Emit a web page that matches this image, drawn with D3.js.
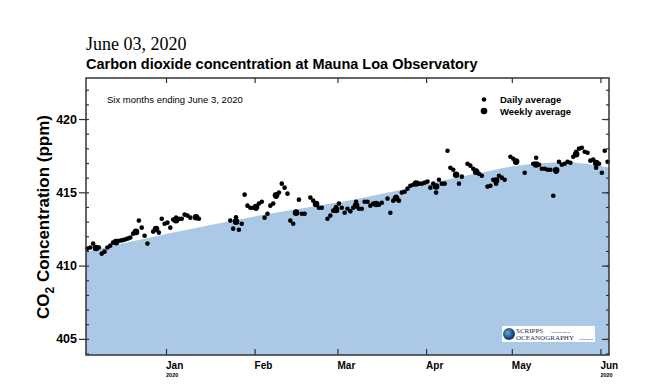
<!DOCTYPE html>
<html>
<head>
<meta charset="utf-8">
<script src="https://cdn.jsdelivr.net/npm/d3@7"></script>
<style>
  body { margin: 0; background: #fff; }
  text { font-family: "Liberation Sans", Arial, sans-serif; }
</style>
</head>
<body>
<div id="chart"></div>
<script>
// daily means, one value per day starting on dailyStart (null = no data)
var dailyStart = "2019-12-04"
var dailyPpm = [
  411.16, 411.23, 411.50, 411.16, 411.23, 410.82, 410.95, 411.23, 411.36, 411.57,
  411.64, 411.70, 411.72, 411.77, 411.84, 411.91, 412.18, 412.25, 413.07, 412.59,
  412.04, 411.50, null, 412.32, 412.52, 412.25, 413.20, 412.86, 412.93, 412.59,
  413.14, 413.27, 413.20, 413.20, 413.48, 413.41, 413.27, null, 413.27, 413.20,
  null, null, null, null, null, null, null, null, null, null,
  413.07, 412.52, 413.30, 412.45, 412.86, 414.84, 414.09, 413.95, 413.95, 413.88,
  414.23, 414.36, 413.27, 413.54, 414.09, 414.23, 414.70, 414.98, 415.59, 415.32,
  414.91, 413.07, 412.86, 413.68, 414.50, 413.54, 413.54, null, 414.64, 414.43,
  414.23, 413.95, 413.95, null, 413.20, 413.41, 413.75, 414.00, 414.23, 413.95,
  413.61, 413.88, 413.70, 413.95, 414.36, 413.88, 413.88, 414.36, 414.36, 414.09,
  414.23, 414.23, 414.16, 414.29, null, 414.57, 413.61, 414.43, 414.70, 414.43,
  414.98, 415.04, 415.25, 415.45, 415.52, 415.59, 415.59, 415.59, 415.66, 415.73,
  415.32, 415.59, 414.98, 415.86, 415.59, 415.59, 417.84, 416.68, 416.54, 416.20,
  415.59, 416.07, null, 416.95, 416.82, 416.61, 416.48, 416.27, 416.13, null,
  415.39, 415.45, 415.86, 415.59, 416.13, 416.00, 415.86, null, 417.43, 417.29,
  417.02, null, null, 416.34, null, null, 416.95, 417.36, 416.88, 416.61,
  416.61, 416.54, 416.54, 414.77, 416.41, 417.09, 416.88, 416.95, 417.09, 417.02,
  417.43, 417.77, 417.98, 418.04, 417.77, 417.70, 417.16, 417.23, 416.68, 416.95,
  416.34, 417.84, 417.09
]

var weeklyDates = ["2019-12-07", "2019-12-14", "2019-12-21", "2019-12-28", "2020-01-04",
  "2020-01-11", "2020-01-25", "2020-02-01", "2020-02-08", "2020-02-15", "2020-02-22",
  "2020-02-29", "2020-03-07", "2020-03-14", "2020-03-21", "2020-03-28", "2020-04-04",
  "2020-04-11", "2020-04-18", "2020-04-25", "2020-05-02", "2020-05-09", "2020-05-16",
  "2020-05-23", "2020-05-30"]
var weeklyPpm = [411.2, 411.6, 412.3, 412.5, 413.1, 413.3, 413.0, 414.0, 414.8, 413.6,
  414.2, 413.8, 414.1, 414.2, 414.6, 415.6, 415.4, 416.2, 416.4, 415.8, 417.1, 416.9,
  416.5, 417.6, 417.0]

// smooth seasonal fit (shaded area)
var fitDates = ["2019-12-04", "2020-01-01", "2020-01-20", "2020-02-05", "2020-02-22",
  "2020-03-01", "2020-03-23", "2020-04-07", "2020-04-19", "2020-05-02", "2020-05-12",
  "2020-05-20", "2020-05-27", "2020-06-04"]
var fitPpm = [410.95, 412.15, 412.9, 413.5, 414.05, 414.3, 415.15, 415.8, 416.3, 416.8,
  417.0, 417.05, 416.95, 416.7]

var yTicks = [405, 410, 415, 420]
var monthTicks = ["2020-01-01", "2020-02-01", "2020-03-01", "2020-04-01", "2020-05-01", "2020-06-01"]
var monthLabels = ["Jan", "Feb", "Mar", "Apr", "May", "Jun"]

const MARGIN = { LEFT: 86, RIGHT: 41, TOP: 78, BOTTOM: 35 }
const W = 650, H = 390
const x0 = MARGIN.LEFT, x1 = W - MARGIN.RIGHT
const y0 = MARGIN.TOP, y1 = H - MARGIN.BOTTOM

const parse = d3.timeParse("%Y-%m-%d")

const svg = d3.select("#chart").append("svg")
  .attr("width", W).attr("height", H)

const x = d3.scaleTime()
  .domain([parse("2019-12-04"), parse("2020-06-04")])
  .range([x0, x1])
const y = d3.scaleLinear()
  .domain([403.9, 422.8])
  .range([y1, y0])

var start = parse(dailyStart)
var daily = dailyPpm.map((v, i) => ({ date: d3.timeHour.offset(d3.timeDay.offset(start, i), 12), v: v }))
  .filter(d => d.v != null)
var weekly = weeklyDates.map((d, i) => ({ date: d3.timeHour.offset(parse(d), 12), v: weeklyPpm[i] }))
var fit = fitDates.map((d, i) => ({ date: parse(d), v: fitPpm[i] }))

svg.append("clipPath").attr("id", "clip")
  .append("rect").attr("x", x0).attr("y", y0).attr("width", x1 - x0).attr("height", y1 - y0)

// titles
svg.append("text")
  .attr("x", 86).attr("y", 50)
  .style("font-family", "'Liberation Serif', 'Times New Roman', serif")
  .style("font-size", "18px")
  .text("June 03, 2020")
svg.append("text")
  .attr("x", 86).attr("y", 69)
  .style("font-size", "14.5px").style("font-weight", "bold")
  .text("Carbon dioxide concentration at Mauna Loa Observatory")

// shaded fit
svg.append("path")
  .datum(fit)
  .attr("clip-path", "url(#clip)")
  .attr("fill", "#abc8e7")
  .attr("d", d3.area().x(d => x(d.date)).y0(y1).y1(d => y(d.v)).curve(d3.curveMonotoneX))

// scripps logo
var logo = svg.append("g")
logo.append("rect").attr("x", 502).attr("y", 326).attr("width", 93).attr("height", 16).attr("fill", "#fff")
var grad = svg.append("defs").append("radialGradient").attr("id", "globe").attr("cx", "40%").attr("cy", "40%")
grad.append("stop").attr("offset", "0%").attr("stop-color", "#5fb0d8")
grad.append("stop").attr("offset", "100%").attr("stop-color", "#143f7a")
logo.append("circle").attr("cx", 509).attr("cy", 334).attr("r", 6).attr("fill", "url(#globe)")
logo.append("text").attr("x", 516).attr("y", 333)
  .style("font-family", "'Liberation Serif', serif").style("font-size", "7px").attr("fill", "#1a2f5a")
  .text("SCRIPPS")
logo.append("text").attr("x", 551).attr("y", 332.5)
  .style("font-size", "2.5px").attr("fill", "#1a2f5a")
  .text("INSTITUTION OF")
logo.append("text").attr("x", 516).attr("y", 340)
  .style("font-family", "'Liberation Serif', serif").style("font-size", "7px").attr("fill", "#1a2f5a")
  .text("OCEANOGRAPHY")
logo.append("text").attr("x", 579).attr("y", 340)
  .style("font-size", "2.5px").attr("fill", "#1a2f5a")
  .text("at San Diego")

// dots
svg.append("g").selectAll("circle")
  .data(daily).enter().append("circle")
  .attr("cx", d => x(d.date)).attr("cy", d => y(d.v))
  .attr("r", 2.3).attr("fill", "#000")
svg.append("g").selectAll("circle")
  .data(weekly).enter().append("circle")
  .attr("cx", d => x(d.date)).attr("cy", d => y(d.v))
  .attr("r", 3.3).attr("fill", "#000")

// axes
var minor = d3.range(404, 423)
function styleAxis(g) {
  g.select(".domain").remove()
  g.selectAll("line").attr("stroke", "#333").attr("stroke-width", 1.2)
  g.selectAll("text").remove()
}
svg.append("g").attr("transform", "translate(" + x0 + ",0)")
  .call(d3.axisLeft(y).tickValues(minor).tickSize(-3)).call(styleAxis)
svg.append("g").attr("transform", "translate(" + x0 + ",0)")
  .call(d3.axisLeft(y).tickValues(yTicks).tickSize(7)).call(styleAxis)
svg.append("g").attr("transform", "translate(" + x1 + ",0)")
  .call(d3.axisRight(y).tickValues(minor).tickSize(-3)).call(styleAxis)
svg.append("g").attr("transform", "translate(" + x1 + ",0)")
  .call(d3.axisRight(y).tickValues(yTicks).tickSize(-7)).call(styleAxis)
var monthDates = monthTicks.map(parse)
svg.append("g").attr("transform", "translate(0," + y1 + ")")
  .call(d3.axisBottom(x).tickValues(monthDates).tickSize(-6)).call(styleAxis)
svg.append("g").attr("transform", "translate(0," + y0 + ")")
  .call(d3.axisTop(x).tickValues(monthDates).tickSize(-5)).call(styleAxis)

svg.append("g").selectAll("text")
  .data(yTicks).enter().append("text")
  .attr("x", x0 - 9).attr("y", d => y(d) + 4.5)
  .attr("text-anchor", "end")
  .style("font-size", "12.5px").style("font-weight", "bold")
  .text(d => d)

svg.append("g").selectAll("text")
  .data(monthDates).enter().append("text")
  .attr("x", d => x(d)).attr("y", 369)
  .style("font-size", "10px").style("font-weight", "bold")
  .text((d, i) => monthLabels[i])
svg.append("g").selectAll("text")
  .data([monthDates[0], monthDates[5]]).enter().append("text")
  .attr("x", d => x(d)).attr("y", 377)
  .style("font-size", "5.5px").style("font-weight", "bold")
  .text("2020")

// frame
svg.append("rect")
  .attr("x", x0).attr("y", y0).attr("width", x1 - x0).attr("height", y1 - y0)
  .attr("fill", "none").attr("stroke", "#333").attr("stroke-width", 1.5)

// y title
var yt = svg.append("text")
  .attr("transform", "translate(49," + 217 + ") rotate(-90)")
  .attr("text-anchor", "middle")
  .style("font-size", "17px").style("font-weight", "bold")
yt.append("tspan").text("CO")
yt.append("tspan").attr("dy", 5).style("font-size", "12px").text("2")
yt.append("tspan").attr("dy", -5).text(" Concentration (ppm)")

// notes and legend
svg.append("text").attr("x", 107).attr("y", 103)
  .style("font-size", "9.5px")
  .text("Six months ending June 3, 2020")
svg.append("circle").attr("cx", 484).attr("cy", 99.5).attr("r", 2.3).attr("fill", "#000")
svg.append("circle").attr("cx", 484).attr("cy", 111).attr("r", 3.3).attr("fill", "#000")
svg.append("text").attr("x", 500).attr("y", 103)
  .style("font-size", "9.5px").style("font-weight", "bold").text("Daily average")
svg.append("text").attr("x", 500).attr("y", 114.5)
  .style("font-size", "9.5px").style("font-weight", "bold").text("Weekly average")
</script>
</body>
</html>
